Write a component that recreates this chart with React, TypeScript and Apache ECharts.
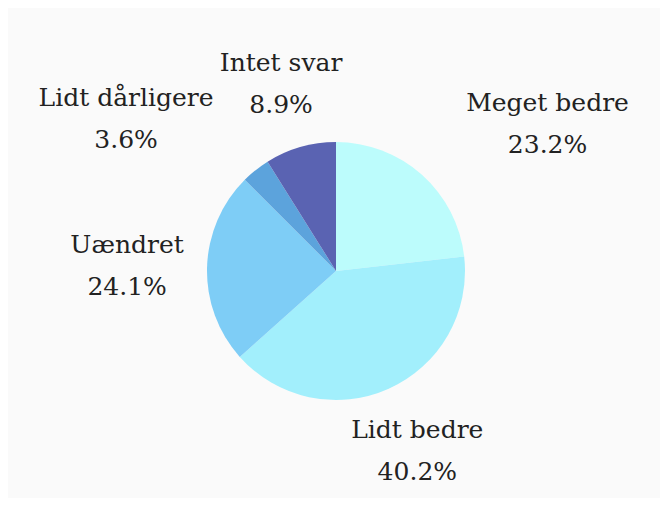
import React, { useEffect, useRef } from "react";
import * as echarts from "echarts";

const categories = ["Meget bedre", "Lidt bedre", "Uændret", "Lidt dårligere", "Intet svar"];
const shares = [23.2, 40.2, 24.1, 3.6, 8.9];
const colors = ["#bcfcfc", "#a2effc", "#7ecdf6", "#5ca3dc", "#5a63b2"];

const labelOffsets: Record<string, number[]> = {
  "Meget bedre": [79, 1],
  "Lidt bedre": [0, -2],
  "Lidt dårligere": [-86, 3],
  "Uændret": [-10, 0],
  "Intet svar": [0, 4],
};

const FONT = "DejaVu Serif";

export default function App() {
  const ref = useRef<HTMLDivElement>(null);
  useEffect(() => {
    if (!ref.current) return;
    const chart = echarts.init(ref.current, null, { renderer: "svg" });
    const center = [328, 263];
    chart.setOption({
      animation: false,
      backgroundColor: "#fafafa",
      textStyle: { fontFamily: FONT },
      series: [
        {
          type: "pie",
          center,
          radius: [0, 129],
          startAngle: 90,
          clockwise: true,
          silent: true,
          label: { show: false },
          labelLine: { show: false },
          data: categories.map((name, i) => ({
            name,
            value: shares[i],
            itemStyle: { color: colors[i] },
          })),
        },
        {
          type: "pie",
          center,
          radius: [186, 206],
          startAngle: 90,
          clockwise: true,
          silent: true,
          avoidLabelOverlap: false,
          itemStyle: { color: "rgba(0,0,0,0)" },
          labelLine: { show: false },
          label: {
            show: true,
            position: "inside",
            fontFamily: FONT,
            fontSize: 25,
            lineHeight: 42,
            color: "#222222",
            align: "center",
            formatter: (p: any) => `${p.name}\n${Number(p.value).toFixed(1)}%`,
          },
          data: categories.map((name, i) => ({
            name,
            value: shares[i],
            label: labelOffsets[name] ? { offset: labelOffsets[name] } : {},
          })),
        },
      ],
    });
    return () => chart.dispose();
  }, []);
  return <div ref={ref} style={{ width: 652, height: 490 }} />;
}
